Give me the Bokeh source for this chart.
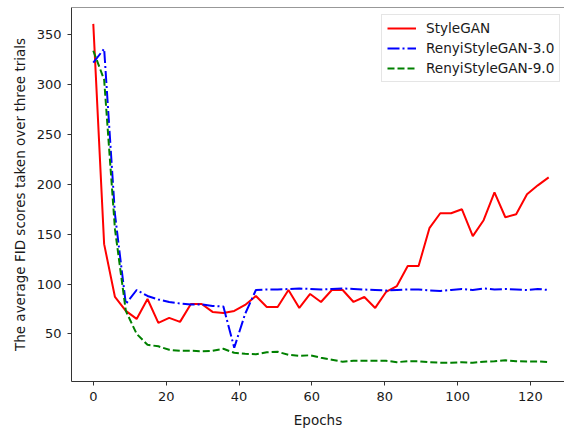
from bokeh.plotting import figure
from bokeh.models import Range1d, FixedTicker, Legend, LegendItem, Span
from bokeh.embed import file_html
from bokeh.resources import INLINE

epochs = [0, 2.98, 5.95, 8.93, 11.9, 14.88, 17.86, 20.83, 23.81, 26.79, 29.76,
          32.74, 35.71, 38.69, 41.67, 44.64, 47.62, 50.6, 53.57, 56.55, 59.52,
          62.5, 65.48, 68.45, 71.43, 74.4, 77.38, 80.36, 83.33, 86.31, 89.29,
          92.26, 95.24, 98.21, 101.19, 104.17, 107.14, 110.12, 113.1, 116.07,
          119.05, 122.02, 125.0]

stylegan = [361, 140, 87, 73, 65, 85, 61, 66, 62, 80, 80,
            72, 71, 73, 79, 88, 77, 77, 94, 76, 90,
            82, 94, 94, 82, 87, 76, 92, 98, 118, 118,
            156, 171, 171, 175, 148, 164, 192, 167, 170, 190,
            199, 207]

renyi3 = [322, 336, 170, 80, 94, 88, 84.5, 82, 80.5, 79.5, 79.5,
          78, 77.5, 36, 70, 94, 94.5, 94.5, 95, 95.5, 95,
          94.5, 95, 95.5, 95, 94.5, 94, 93.5, 94, 94.5, 94.5,
          93.5, 93, 94, 95, 94, 95.5, 94.5, 95, 94.5, 94,
          95, 94]

renyi9 = [334, 305, 155, 73, 50, 39, 37.5, 34, 33, 33, 32.6,
          33, 35, 31, 30, 29.5, 31.5, 32, 29, 28, 28.5,
          26, 24, 22, 23, 23, 23, 23, 21.6, 22.5, 22.5,
          21.5, 21, 21, 21.5, 21, 22, 22.6, 23.5, 22.5, 22.3,
          22.3, 21.6]

x_ticks = [0, 20, 40, 60, 80, 100, 120]
y_ticks = [50, 100, 150, 200, 250, 300, 350]

FONT = "DejaVu Sans"
TXT = "#1a1a1a"
SPINE = "#333333"

p = figure(width=564, height=430, output_backend="svg", toolbar_location=None,
           x_range=Range1d(-5.98, 129.34), y_range=Range1d(2.2, 377.4),
           min_border_left=71, min_border_right=0, min_border_top=7,
           min_border_bottom=49)
p.outline_line_color = None
p.xgrid.visible = False
p.ygrid.visible = False
p.background_fill_color = "white"
p.border_fill_color = "white"

r1 = p.line(epochs, stylegan, line_color="#ff0000", line_width=2)
r2 = p.line(epochs, renyi3, line_color="#0000ff", line_width=2,
            line_dash="12 3 2 3")
r3 = p.line(epochs, renyi9, line_color="#008000", line_width=2,
            line_dash="7 3")

top = Span(location=377.4, dimension="width", line_color=SPINE, line_width=1)
p.add_layout(top)

for ax in (p.xaxis[0], p.yaxis[0]):
    ax.axis_line_color = SPINE
    ax.axis_line_width = 1
    ax.major_tick_line_color = SPINE
    ax.major_tick_in = 0
    ax.major_tick_out = 4
    ax.minor_tick_line_color = None
    ax.major_label_text_font = FONT
    ax.major_label_text_font_size = "13px"
    ax.major_label_text_color = TXT
    ax.axis_label_text_font = FONT
    ax.axis_label_text_font_size = "13.5px"
    ax.axis_label_text_font_style = "normal"
    ax.axis_label_text_color = TXT

p.xaxis[0].ticker = FixedTicker(ticks=x_ticks)
p.yaxis[0].ticker = FixedTicker(ticks=y_ticks)
p.xaxis[0].axis_label = "Epochs"
p.yaxis[0].axis_label = "The average FID scores taken over three trials"
p.xaxis[0].major_label_standoff = 6
p.xaxis[0].axis_label_standoff = 8
p.yaxis[0].major_label_standoff = 6
p.yaxis[0].axis_label_standoff = 6

legend = Legend(items=[LegendItem(label="StyleGAN", renderers=[r1]),
                       LegendItem(label="RenyiStyleGAN-3.0", renderers=[r2]),
                       LegendItem(label="RenyiStyleGAN-9.0", renderers=[r3])],
                location=(310, 299))
legend.label_text_font = FONT
legend.label_text_font_size = "13.6px"
legend.label_text_color = TXT
legend.glyph_width = 29
legend.glyph_height = 14
legend.label_height = 14
legend.label_standoff = 10
legend.padding = 5
legend.spacing = 4
legend.margin = 0
legend.border_line_color = "#cccccc"
legend.border_line_width = 1
legend.background_fill_color = "white"
legend.background_fill_alpha = 0.8
p.add_layout(legend)

open("out.html", "w").write(file_html(p, INLINE))
